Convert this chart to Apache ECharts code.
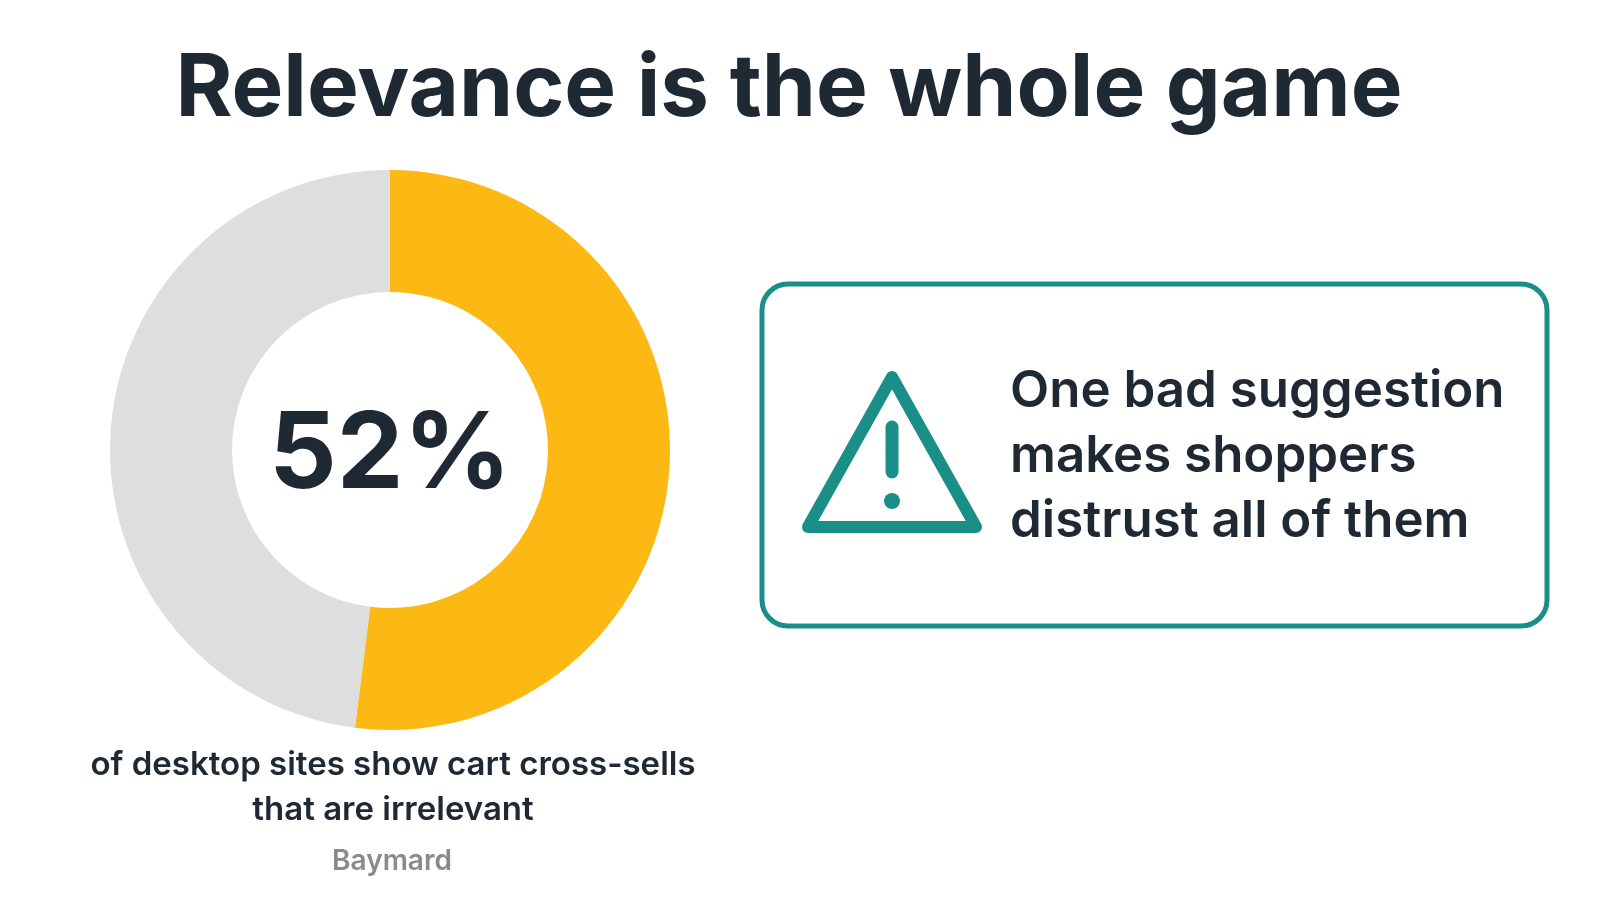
<!DOCTYPE html>
<html><head><meta charset="utf-8">
<script src="https://cdn.jsdelivr.net/npm/echarts@6/dist/echarts.min.js"></script>
<style>html,body{margin:0;background:#fff}#c{width:1600px;height:900px}</style>
</head><body><div id="c"></div>
<script>
const categories = ['Irrelevant', 'Other'];
const values = [52, 48];
const centerLabel = '52%';
const captionLines = ['of desktop sites show cart cross-sells', 'that are irrelevant'];
const source = 'Baymard';
const calloutLines = ['One bad suggestion', 'makes shoppers', 'distrust all of them'];

const chart = echarts.init(document.getElementById('c'));
const F = 'Inter, "Noto Sans", sans-serif';
const teal = '#1a8f88';
chart.setOption({
  series: [{
    type: 'pie', radius: [158, 280], center: [390, 450], startAngle: 90, clockwise: true,
    silent: true, label: {show: false},
    data: categories.map((n, i) => ({name: n, value: values[i],
      itemStyle: {color: i === 0 ? '#FDB913' : '#DEDEDE'}}))
  }],
  graphic: [
    {type: 'text', x: 789, y: 90, style: {text: 'Relevance is the whole game', align: 'center', verticalAlign: 'middle',
      font: '700 87px ' + F, fill: '#1f2933'}},
    {type: 'text', x: 390, y: 456, style: {text: centerLabel, align: 'center', verticalAlign: 'middle',
      font: '700 106px ' + F, fill: '#1f2933'}},
    {type: 'text', x: 393, y: 788, style: {text: captionLines.join('\n'), align: 'center', verticalAlign: 'middle',
      font: '600 33px ' + F, lineHeight: 45, fill: '#1f2933'}},
    {type: 'text', x: 392, y: 862, style: {text: source, align: 'center', verticalAlign: 'middle',
      font: '600 28px ' + F, fill: '#8a8a8a'}},
    {type: 'rect', shape: {x: 762, y: 284, width: 785, height: 342, r: 26},
      style: {fill: '#fff', stroke: teal, lineWidth: 5}},
    {type: 'polygon', shape: {points: [[892, 377], [808, 527], [976, 527]]},
      style: {fill: 'none', stroke: teal, lineWidth: 12, lineJoin: 'round'}},
    {type: 'line', shape: {x1: 892, y1: 427, x2: 892, y2: 472},
      style: {stroke: teal, lineWidth: 13, lineCap: 'round'}},
    {type: 'circle', shape: {cx: 892, cy: 501, r: 8}, style: {fill: teal}},
    {type: 'text', x: 1010, y: 457, style: {text: calloutLines.join('\n'), align: 'left', verticalAlign: 'middle',
      font: '600 51px ' + F, lineHeight: 65, fill: '#1f2933'}}
  ]
});
</script></body></html>
